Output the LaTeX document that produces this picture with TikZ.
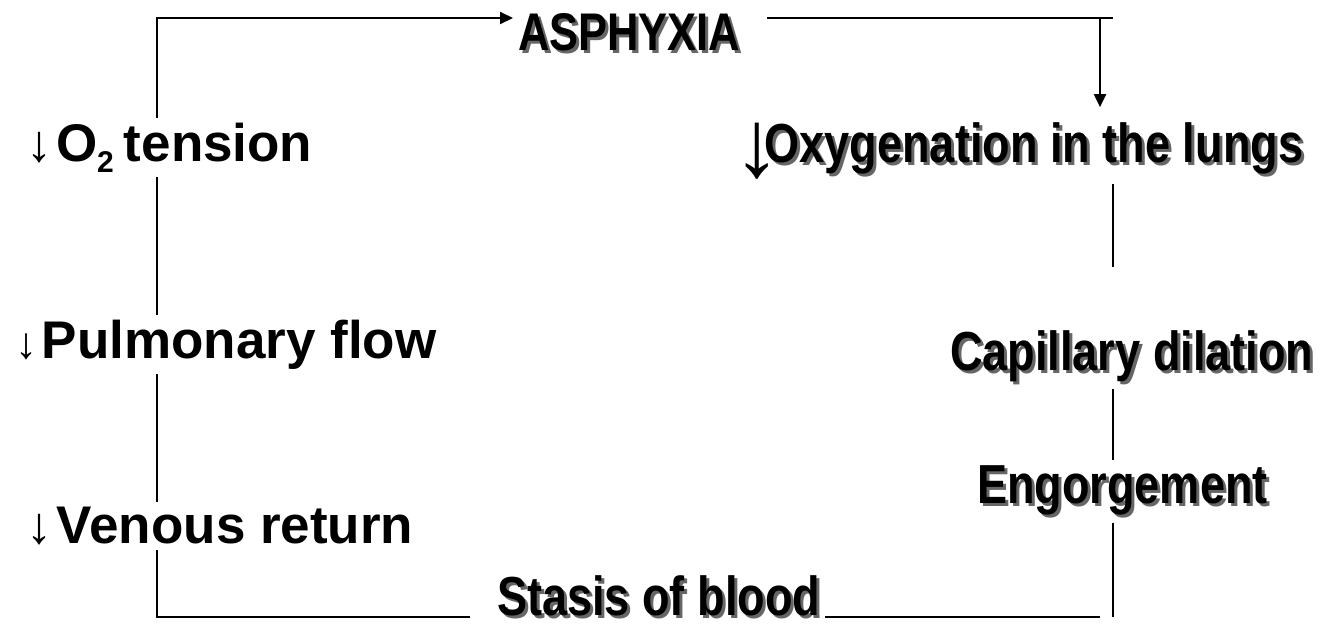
\documentclass[tikz,border=0pt]{standalone}
\usepackage{fontspec}
\setmainfont{Liberation Sans}
\newfontfamily\narrowfont[FakeStretch=0.82]{Liberation Sans}
\usetikzlibrary{positioning,arrows.meta}

\newcommand{\shadowtext}[1]{\rlap{\kern3pt\raisebox{-3pt}{\textcolor{black!60}{#1}}}#1}
\newcommand{\dnarrow}[1]{{\rmfamily\mdseries\fontsize{#1}{#1}\selectfont ↓}}

\begin{document}
\begin{tikzpicture}[x=1pt,y=-1pt,
		lefttext/.style={anchor=base west,inner sep=0pt,outer sep=5pt,
			font=\fontsize{53}{60}\selectfont\bfseries},
		righttext/.style={anchor=base west,inner sep=0pt,outer sep=5pt,
			font=\fontsize{55}{60}\selectfont\narrowfont\bfseries},
		line/.style={line width=2pt},
		arr/.style={line width=2pt,-{Triangle[length=13pt,width=12pt]}}]
		
		\useasboundingbox (0,0) rectangle (1344,630);
		
		% corners of the loop
		\coordinate (tl) at (157,18);
		\coordinate (bl) at (157,617);
		\coordinate (tr) at (1113,18);
		\coordinate (tra) at (1100,18);
		\coordinate (br) at (1113,617);
		\coordinate (brh) at (1100,617);
		
		\node[righttext,font=\fontsize{53}{60}\selectfont\narrowfont\bfseries] (asph)
		at (513,50)
		{\shadowtext{ASPHYXIA}};
		
		\node[righttext] (oxy)
		at (728,162)
		{\raisebox{-14pt}{\dnarrow{95}}\kern-16pt\shadowtext{Oxygenation in the lungs}};
		
		\node[righttext] (cap)
		at (945,370)
		{\shadowtext{Capillary dilation}};
		
		\node[righttext] (eng)
		at (972,503)
		{\shadowtext{Engorgement}};
		
		\node[righttext] (stasis)
		at (492,615)
		{\shadowtext{Stasis of blood}};
		
		\node[lefttext] (otwo)
		at (21,161)
		{\dnarrow{52}\kern4pt O\raisebox{-11pt}{\fontsize{30}{30}\selectfont 2}\kern10pt tension};
		
		\node[lefttext] (pulm)
		at (10,358)
		{\dnarrow{44}\kern5pt Pulmonary flow};
		
		\node[lefttext] (venous)
		at (22,543)
		{\dnarrow{52}\kern4pt Venous return};
		
		\draw[line,shorten <=22pt] (stasis.west |- bl) -- (bl) -- (venous.south -| bl);
		\draw[line] (venous.north -| bl) -- (pulm.south -| bl);
		\draw[line] (pulm.north -| bl) -- (otwo.south -| bl);
		\draw[arr] (otwo.north -| bl) -- (tl) -- (asph.west |- tl);
		\draw[line,shorten <=22pt] (asph.east |- tr) -- (tr);
		\draw[arr,shorten >=10pt] (tra) -- (oxy.north -| tra);
		\draw[line,shorten >=58pt] (oxy.south -| tr) -- (cap.north -| tr);
		\draw[line] (cap.south -| tr) -- (eng.north -| tr);
		\draw[line] (eng.south -| tr) -- (br);
		\draw[line] (stasis.east |- brh) -- (brh);
		
	\end{tikzpicture}
\end{document}
